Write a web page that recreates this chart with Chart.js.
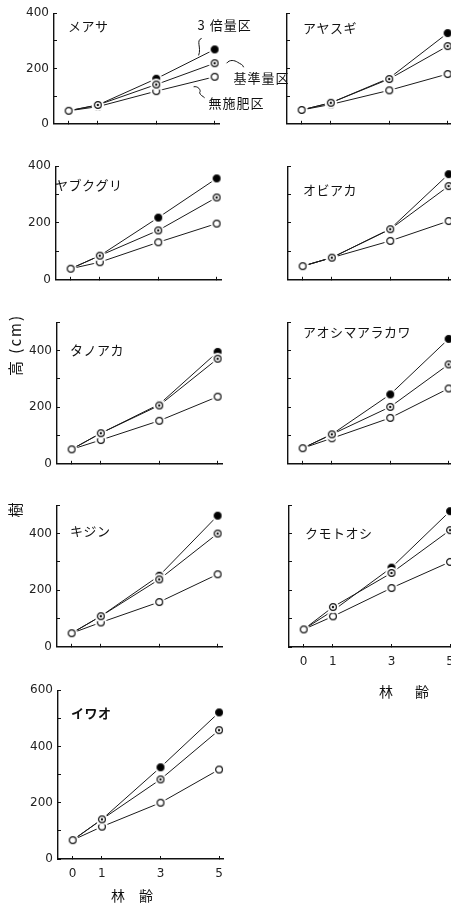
<!DOCTYPE html>
<html lang="ja">
<head>
<meta charset="utf-8">
<title>樹高の推移</title>
<script src="https://cdn.jsdelivr.net/npm/chart.js@4.4.1/dist/chart.umd.min.js"></script>
<style>
    html, body {
        margin: 0;
        padding: 0;
        background: #fff;
        width: 451px;
        height: 906px;
        overflow: hidden;
        position: relative;
    }
    canvas.panel, canvas#pageLabels {
        position: absolute;
        left: 0;
        top: 0;
    }
</style>
</head>
<body>
<canvas id="pageLabels" width="451" height="906"></canvas>

<script>
// 林齢（年）
const ages = [0, 1, 3, 5];
const xTickValues = [0, 1, 3, 5];

// 樹種
const species = ['メアサ', 'アヤスギ', 'ヤブクグリ', 'オビアカ', 'タノアカ',
    'アオシマアラカワ', 'キジン', 'クモトオシ', 'イワオ'];

const seriesNames = ['3 倍量区', '基準量区', '無施肥区'];

const yTitleMain = '樹';
const yTitleSub = '高 (cm)';
const xTitle = '林　齢';

// 樹高 (cm) — 図から読み取った値
const tripleDose = [
    [47, 68, 163, 269],
    [50, 76, 165, 328],
    [39, 85, 219, 357],
    [48, 78, 179, 372],
    [51, 108, 210, 395],
    [55, 104, 245, 441],
    [48, 108, 251, 463],
    [62, 128, 280, 479],
    [67, 141, 326, 521]
];
const standardDose = [
    [47, 68, 142, 219],
    [50, 76, 162, 281],
    [39, 85, 174, 290],
    [48, 78, 178, 330],
    [51, 108, 206, 371],
    [55, 104, 201, 351],
    [48, 108, 238, 400],
    [62, 141, 261, 412],
    [67, 141, 283, 458]
];
const noFertilizer = [
    [47, 62, 118, 170],
    [50, 70, 121, 180],
    [39, 62, 132, 198],
    [48, 78, 137, 207],
    [51, 84, 152, 237],
    [55, 90, 162, 266],
    [48, 86, 158, 256],
    [62, 108, 208, 300],
    [67, 115, 200, 318]
];

const yMaxes = [400, 400, 400, 400, 500, 500, 500, 500, 600];

// 各パネルの位置 (px): 軸の x, 最大値の y, 0 の y, 樹種名のずれ
const panelBoxes = [
    { axisX: 54, top: 13, bottom: 124, dx: 14, dy: 13 },
    { axisX: 287, top: 13, bottom: 124, dx: 16, dy: 15 },
    { axisX: 56, top: 166, bottom: 280, dx: -1, dy: 19 },
    { axisX: 288, top: 166, bottom: 280, dx: 15, dy: 24 },
    { axisX: 57, top: 322, bottom: 464, dx: 13, dy: 28 },
    { axisX: 288, top: 322, bottom: 464, dx: 15, dy: 10 },
    { axisX: 57, top: 505, bottom: 647, dx: 13, dy: 26 },
    { axisX: 289, top: 505, bottom: 647, dx: 16, dy: 28 },
    { axisX: 58, top: 690, bottom: 859, dx: 13, dy: 23 }
];

const Y_AXIS_W = 36;
const PLOT_W = 165;
const PAD_TOP = 10;
const TICK_FONT = { family: 'DejaVu Sans', size: 12 };

// マーカー: 黒丸, 二重丸, 白丸（線との間に白い隙間）
function makeMarker(kind) {
    const c = document.createElement('canvas');
    c.width = 14;
    c.height = 14;
    const g = c.getContext('2d');
    g.fillStyle = '#fff';
    g.beginPath();
    g.arc(7, 7, 6, 0, Math.PI * 2);
    g.fill();
    g.beginPath();
    g.arc(7, 7, 3.4, 0, Math.PI * 2);
    g.fillStyle = kind === 'filled' ? '#000' : '#fff';
    g.fill();
    g.lineWidth = 1.2;
    g.strokeStyle = '#111';
    g.stroke();
    if (kind === 'dot') {
        g.beginPath();
        g.arc(7, 7, 1.2, 0, Math.PI * 2);
        g.fillStyle = '#111';
        g.fill();
    }
    return c;
}

const markers = [makeMarker('filled'), makeMarker('dot'), makeMarker('open')];
// 点の重なり順（小さいほど上）: 基準量区, 3倍量区, 無施肥区
const pointOrder = [1, 0, 2];

// パネル内の樹種名
const panelTitlePlugin = {
    id: 'panelTitle',
    afterDraw(chart, args, opts) {
        const ctx = chart.ctx;
        const area = chart.chartArea;
        ctx.save();
        ctx.font = (opts.bold ? 'bold ' : '') + '13px "Noto Sans CJK JP"';
        ctx.letterSpacing = '0.5px';
        ctx.fillStyle = '#111';
        ctx.textAlign = 'left';
        ctx.textBaseline = 'middle';
        ctx.fillText(opts.text, area.left + opts.dx, area.top + opts.dy);
        ctx.restore();
    }
};

// 凡例（最初のパネルのみ、引き出し線つき）
const seriesNotePlugin = {
    id: 'seriesNote',
    afterDraw(chart, args, opts) {
        if (!opts.show) return;
        const ctx = chart.ctx;
        const last = ages.length - 1;
        // 点だけのデータセットは 0,1,2
        const p = [0, 1, 2].map(i => chart.getDatasetMeta(i).data[last]);
        ctx.save();
        ctx.strokeStyle = '#111';
        ctx.lineWidth = 1;
        ctx.fillStyle = '#111';
        ctx.font = '13px "Noto Sans CJK JP"';
        ctx.letterSpacing = '1px';
        ctx.textBaseline = 'middle';
        ctx.textAlign = 'left';

        // 3 倍量区
        let x = p[0].x, y = p[0].y;
        ctx.beginPath();
        ctx.moveTo(x - 13, y - 11);
        ctx.bezierCurveTo(x - 19, y - 9, x - 13, y - 2, x - 16, y + 6);
        ctx.stroke();
        ctx.fillText(seriesNames[0], x - 17, y - 24);

        // 基準量区
        x = p[1].x; y = p[1].y;
        ctx.beginPath();
        ctx.moveTo(x + 12, y);
        ctx.bezierCurveTo(x + 15, y - 4, x + 20, y - 3, x + 23, y - 1);
        ctx.bezierCurveTo(x + 26, y + 1, x + 28, y + 1, x + 29, y + 4);
        ctx.stroke();
        ctx.fillText(seriesNames[1], x + 19, y + 15);

        // 無施肥区
        x = p[2].x; y = p[2].y;
        ctx.beginPath();
        ctx.moveTo(x - 21, y + 10);
        ctx.bezierCurveTo(x - 17, y + 9, x - 13, y + 13, x - 15, y + 16);
        ctx.bezierCurveTo(x - 14, y + 19, x - 12, y + 19, x - 10, y + 21);
        ctx.stroke();
        ctx.fillText(seriesNames[2], x - 6, y + 26);
        ctx.restore();
    }
};

function toPoints(values) {
    return ages.map((a, i) => ({ x: a, y: values[i] }));
}

function buildConfig(k, xHeight, padRight) {
    const box = panelBoxes[k];
    const showY = k % 2 === 0;
    const showX = k >= 7;
    const rows = [tripleDose[k], standardDose[k], noFertilizer[k]];

    // 点（線の上に描く）
    const pointSets = rows.map((row, s) => ({
        label: seriesNames[s],
        data: toPoints(row),
        showLine: false,
        order: pointOrder[s],
        pointStyle: markers[s],
        pointRadius: ctx => {
            // 0年は全区共通の白丸、1年は 3倍量区が基準量区と重なる
            if (s === 0 && ctx.dataIndex < 2) return 0;
            if (s === 1 && ctx.dataIndex < 1) return 0;
            return 4;
        }
    }));

    // 線
    const lineSets = rows.map((row, s) => ({
        label: seriesNames[s],
        data: toPoints(row),
        borderColor: '#1a1a1a',
        borderWidth: 1,
        pointRadius: 0,
        tension: 0,
        order: 5
    }));

    const axisBorder = { display: true, color: '#111', width: 1.4 };
    const axisGrid = {
        drawOnChartArea: false,
        drawTicks: true,
        tickLength: -3,
        color: '#111'
    };

    return {
        type: 'line',
        data: { datasets: pointSets.concat(lineSets) },
        options: {
            responsive: false,
            maintainAspectRatio: false,
            animation: false,
            events: [],
            layout: {
                padding: { top: PAD_TOP, right: padRight, bottom: 0, left: 0 }
            },
            scales: {
                x: {
                    type: 'linear',
                    min: -0.5,
                    max: 5.15,
                    afterBuildTicks: axis => {
                        axis.ticks = xTickValues.map(v => ({ value: v }));
                    },
                    afterFit: axis => { axis.height = xHeight; },
                    border: axisBorder,
                    grid: axisGrid,
                    ticks: {
                        display: showX,
                        color: '#222',
                        font: TICK_FONT,
                        padding: 11,
                        maxRotation: 0
                    }
                },
                y: {
                    type: 'linear',
                    min: 0,
                    max: yMaxes[k],
                    afterFit: axis => { axis.width = Y_AXIS_W; },
                    border: axisBorder,
                    grid: axisGrid,
                    ticks: {
                        stepSize: 100,
                        color: '#222',
                        font: TICK_FONT,
                        padding: 8,
                        callback: v => (showY && v % 200 === 0) ? String(v) : ''
                    }
                }
            },
            plugins: {
                legend: { display: false },
                tooltip: { enabled: false },
                panelTitle: {
                    text: species[k],
                    dx: box.dx,
                    dy: box.dy,
                    bold: k === 8
                },
                seriesNote: { show: k === 0 }
            }
        },
        plugins: [panelTitlePlugin, seriesNotePlugin]
    };
}

function placeCanvas(canvas, left, top, w, h) {
    canvas.width = w;
    canvas.height = h;
    canvas.style.left = left + 'px';
    canvas.style.top = top + 'px';
    canvas.style.width = w + 'px';
    canvas.style.height = h + 'px';
}

function createPanel(k) {
    const box = panelBoxes[k];
    const xHeight = k >= 7 ? 26 : 10;
    const padRight = k === 0 ? 80 : 0;

    const canvas = document.createElement('canvas');
    canvas.className = 'panel';
    document.body.appendChild(canvas);

    // 1回目: 余白を測る
    let w = Y_AXIS_W + PLOT_W + padRight;
    let h = (box.bottom - box.top) + PAD_TOP + xHeight;
    placeCanvas(canvas, 0, 0, w, h);
    let chart = new Chart(canvas.getContext('2d'), buildConfig(k, xHeight, padRight));
    const a = chart.chartArea;
    const padL = a.left, padT = a.top, padR = w - a.right, padB = h - a.bottom;
    chart.destroy();

    // 2回目: 軸が所定の位置に来るように置き直す
    w = Math.round(padL + PLOT_W + padR);
    h = Math.round(padT + (box.bottom - box.top) + padB);
    placeCanvas(canvas, Math.round(box.axisX - padL), Math.round(box.top - padT), w, h);
    chart = new Chart(canvas.getContext('2d'), buildConfig(k, xHeight, padRight));
    return chart;
}

// 軸タイトル（樹高 (cm)、林齢）
function drawPageLabels() {
    const ctx = document.getElementById('pageLabels').getContext('2d');
    ctx.fillStyle = '#111';
    ctx.textAlign = 'center';
    ctx.textBaseline = 'middle';

    ctx.font = '15px "Noto Sans CJK JP"';
    ctx.save();
    ctx.translate(15, 345);
    ctx.rotate(-Math.PI / 2);
    ctx.letterSpacing = '2px';
    ctx.fillText(yTitleSub, 0, 0);
    ctx.restore();

    ctx.save();
    ctx.translate(15, 510);
    ctx.rotate(-Math.PI / 2);
    ctx.fillText(yTitleMain, 0, 0);
    ctx.restore();

    ctx.font = '14px "Noto Sans CJK JP"';
    ctx.save();
    ctx.letterSpacing = '4px';
    ctx.fillText(xTitle, 406, 692);
    ctx.restore();
    ctx.fillText(xTitle, 132, 896);
}

document.addEventListener('DOMContentLoaded', function() {
    drawPageLabels();
    for (let k = 0; k < species.length; k++) {
        createPanel(k);
    }
});
</script>
</body>
</html>
